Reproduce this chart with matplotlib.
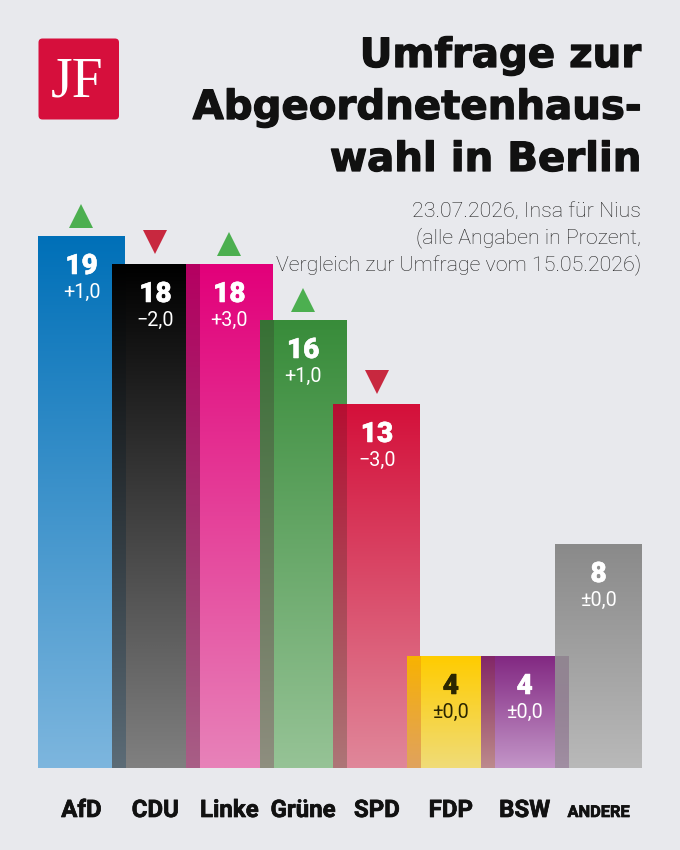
import numpy as np
import matplotlib.pyplot as plt
import matplotlib.patheffects as pe
from matplotlib.patches import FancyBboxPatch

# data
parties = ["AfD", "CDU", "Linke", "Grüne", "SPD", "FDP", "BSW", "ANDERE"]
values = [19, 18, 18, 16, 13, 4, 4, 8]
changes = [1.0, -2.0, 3.0, 1.0, -3.0, 0.0, 0.0, 0.0]

# gradient colours (top of bar -> bottom of bar)
top_colors = ["#0070b8", "#000000", "#e2007a", "#388c3a", "#d4103a", "#ffcc00", "#822882", "#8a8a8a"]
bottom_colors = ["#7db6de", "#808080", "#e882b9", "#96c396", "#e0879a", "#f0dc78", "#c396c8", "#b9b9b9"]
text_colors = ["white"] * 5 + ["#2b2600", "white", "white"]

BG = "#e8e9ed"
W, H = 680, 850
PX_PER_UNIT = 28.0
STEP = 73.9
BAR_W = 87 / STEP
SANS = ["Roboto", "DejaVu Sans"]


def fmt_change(c):
    if c > 0:
        return "+" + f"{c:.1f}".replace(".", ",")
    if c < 0:
        return "\u2212" + f"{-c:.1f}".replace(".", ",")
    return "\u00b10,0"


def hex_rgb(h):
    h = h.lstrip("#")
    return np.array([int(h[j:j + 2], 16) for j in (0, 2, 4)]) / 255.0


def color_at(i, y):
    # colour of bar i at data height y (0 = bottom, values[i] = top)
    t = (np.asarray(y) / values[i])[:, None]
    b = hex_rgb(bottom_colors[i])
    tp = hex_rgb(top_colors[i])
    return b + (tp - b) * t


fig = plt.figure(figsize=(W / 100, H / 100), dpi=100, facecolor=BG)

# bar axes: bottom of bars at y=768px, 28px per percent
x_lo = -BAR_W / 2
x_hi = len(parties) - 1 + BAR_W / 2
ax = fig.add_axes([38 / W, (H - 768) / H, 604 / W, 20 * PX_PER_UNIT / H])
ax.set_facecolor("none")

n = 300
for i, v in enumerate(values):
    ys = np.linspace(v, 0, n)
    img = color_at(i, ys)[:, None, :]
    ax.imshow(img, extent=(i - BAR_W / 2, i + BAR_W / 2, 0, v), aspect="auto",
              interpolation="bilinear", zorder=2 * i + 1)
    if i > 0:
        # overlap with the previous bar: partial multiply blend
        hs = min(v, values[i - 1])
        ys = np.linspace(hs, 0, n)
        cur = color_at(i, ys)
        prev = color_at(i - 1, ys)
        k = (0.55 - 0.35 * ys / hs)[:, None]
        strip = cur * (1 - k + k * prev)
        ax.imshow(strip[:, None, :], extent=(i - BAR_W / 2, i - 1 + BAR_W / 2, 0, hs),
                  aspect="auto", interpolation="bilinear", zorder=2 * i + 2)

    # value and change labels
    ax.text(i, v - 38 / PX_PER_UNIT, str(v), ha="center", va="baseline",
            fontsize=20.2, fontweight="heavy", family=SANS, color=text_colors[i], zorder=40,
            path_effects=[pe.withStroke(linewidth=0.4, foreground=text_colors[i])])
    ax.text(i, v - 62 / PX_PER_UNIT, fmt_change(changes[i]), ha="center", va="baseline",
            fontsize=14.2, fontweight="normal", family=SANS, color=text_colors[i], zorder=40)

    # trend markers
    if changes[i] > 0:
        ax.plot(i, v + 20.3 / PX_PER_UNIT, marker="^", markersize=17.3, color="#4caf50",
                markeredgewidth=0, clip_on=False, zorder=40)
    elif changes[i] < 0:
        ax.plot(i, v + 22.3 / PX_PER_UNIT, marker="v", markersize=17.3, color="#c8283f",
                markeredgewidth=0, clip_on=False, zorder=40)

    # party names
    if parties[i] == "ANDERE":
        fs = 11.8
    else:
        fs = 17.3
    ax.text(i, -49 / PX_PER_UNIT, parties[i], ha="center", va="baseline", fontsize=fs,
            fontweight="bold", family=SANS, color="#111111", clip_on=False,
            path_effects=[pe.withStroke(linewidth=0.5, foreground="#111111")])

ax.set_xlim(x_lo, x_hi)
ax.set_ylim(0, 20)
ax.axis("off")

# overlay in pixel coordinates for logo and headings
ov = fig.add_axes([0, 0, 1, 1], zorder=5)
ov.set_xlim(0, W)
ov.set_ylim(H, 0)
ov.axis("off")

logo = FancyBboxPatch((38.5, 38.5), 80.5, 81, boxstyle="round,pad=0,rounding_size=4",
                      facecolor="#d60f3c", edgecolor="none")
ov.add_patch(logo)
ov.text(77.5, 96, "JF", ha="center", va="baseline", fontsize=40, color="white",
        family=["Liberation Serif", "DejaVu Serif"])

title_lines = ["Umfrage zur", "Abgeordnetenhaus-", "wahl in Berlin"]
for j, line in enumerate(title_lines):
    ov.text(641, 67 + 52 * j, line, ha="right", va="baseline", fontsize=29,
            fontweight="bold", family="DejaVu Sans", color="#111111",
            path_effects=[pe.withStroke(linewidth=0.9, foreground="#111111")])

sub_lines = ["23.07.2026, Insa für Nius", "(alle Angaben in Prozent,",
             "Vergleich zur Umfrage vom 15.05.2026)"]
for j, line in enumerate(sub_lines):
    ov.text(641, 216.7 + 26.7 * j, line, ha="right", va="baseline", fontsize=15.4,
            fontweight="light", family=SANS, color="#222222")

fig.savefig("out.png", dpi=100, facecolor=BG)
